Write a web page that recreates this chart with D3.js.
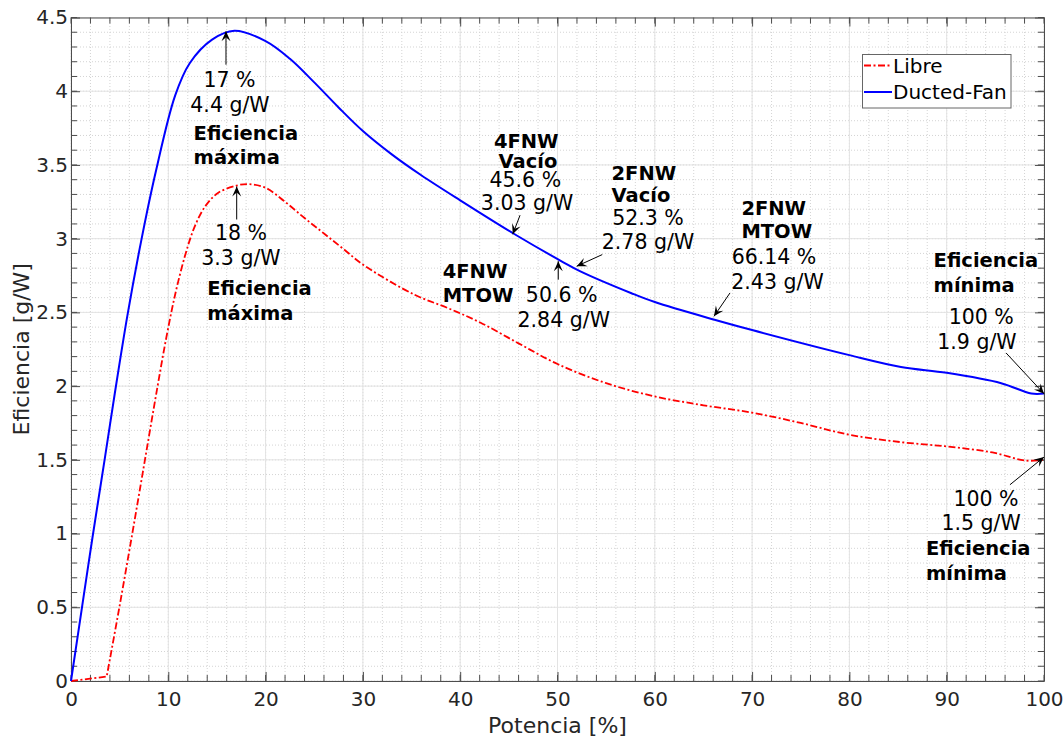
<!DOCTYPE html>
<html>
<head>
<meta charset="utf-8">
<script src="https://cdn.jsdelivr.net/npm/d3@7"></script>
<style>
    body { margin: 0; background: #ffffff; }
    svg text { font-family: "DejaVu Sans", sans-serif; }
</style>
</head>
<body>
<div id="chart"></div>
<script>
//data
var libre_x = [0, 3.67, 4.97, 6.3, 7.6, 8.9, 9.8, 10.7, 11.7, 12.7, 13.8, 15.1, 17, 18.3, 20, 22, 24, 26, 28, 30.1, 35.3, 38.7, 42.1, 46, 50, 55, 60, 65, 70, 75, 80, 85.3, 90.1, 94.7, 98.1, 100];
var libre_y = [0, 0.03, 0.5, 1.0, 1.5, 2.0, 2.33, 2.62, 2.88, 3.08, 3.22, 3.31, 3.36, 3.37, 3.345, 3.25, 3.14, 3.035, 2.93, 2.82, 2.62, 2.53, 2.43, 2.29, 2.15, 2.02, 1.93, 1.87, 1.82, 1.75, 1.67, 1.62, 1.59, 1.55, 1.495, 1.5];

var ducted_x = [0, 1.13, 2.2, 3.5, 4.5, 5.8, 7.2, 8.7, 10.7, 12.2, 14.5, 16.8, 20, 22.5, 25, 27.5, 30, 33, 36, 40, 45.6, 50.6, 52.3, 57.6, 60, 66.14, 70, 80, 85.3, 90, 95.6, 98.7, 100];
var ducted_y = [0, 0.5, 0.97, 1.52, 1.95, 2.48, 2.98, 3.45, 3.97, 4.19, 4.35, 4.41, 4.34, 4.22, 4.06, 3.89, 3.73, 3.57, 3.43, 3.26, 3.03, 2.84, 2.78, 2.63, 2.57, 2.45, 2.38, 2.21, 2.13, 2.09, 2.02, 1.95, 1.95];

var series_names = ['Libre', 'Ducted-Fan'];

var x_ticks = [0, 10, 20, 30, 40, 50, 60, 70, 80, 90, 100];
var y_ticks = [0, 0.5, 1, 1.5, 2, 2.5, 3, 3.5, 4, 4.5];

//arrows: [x tail, y tail, x tip, y tip]
var arrows = [
    [15.93, 4.18, 15.93, 4.406],
    [17.03, 3.13, 17.03, 3.354],
    [46.15, 3.159, 45.4, 3.03],
    [50.08, 2.722, 50.08, 2.847],
    [54.6, 2.892, 51.97, 2.813],
    [67.73, 2.632, 66.08, 2.473],
    [96.1, 2.225, 100, 1.948],
    [96.5, 1.331, 100, 1.519]
];

//labels: [text, x, y, anchor, bold]
var labels = [
    ['17 %', 16.29, 4.08, 'middle', false],
    ['4.4 g/W', 16.34, 3.91, 'middle', false],
    ['Eficiencia', 12.6, 3.72, 'start', true],
    ['máxima', 12.6, 3.557, 'start', true],
    ['18 %', 17.47, 3.039, 'middle', false],
    ['3.3 g/W', 17.47, 2.870, 'middle', false],
    ['Eficiencia', 14.0, 2.666, 'start', true],
    ['máxima', 14.0, 2.496, 'start', true],
    ['4FNW', 46.79, 3.66, 'middle', true],
    ['Vacío', 46.97, 3.525, 'middle', true],
    ['45.6 %', 46.69, 3.401, 'middle', false],
    ['3.03 g/W', 46.87, 3.243, 'middle', false],
    ['4FNW', 38.2, 2.779, 'start', true],
    ['MTOW', 38.2, 2.621, 'start', true],
    ['50.6 %', 50.43, 2.621, 'middle', false],
    ['2.84 g/W', 50.64, 2.451, 'middle', false],
    ['2FNW', 55.55, 3.447, 'start', true],
    ['Vacío', 55.55, 3.299, 'start', true],
    ['52.3 %', 59.30, 3.141, 'middle', false],
    ['2.78 g/W', 59.30, 2.982, 'middle', false],
    ['2FNW', 68.9, 3.209, 'start', true],
    ['MTOW', 68.9, 3.050, 'start', true],
    ['66.14 %', 72.25, 2.881, 'middle', false],
    ['2.43 g/W', 72.61, 2.711, 'middle', false],
    ['Eficiencia', 88.65, 2.858, 'start', true],
    ['mínima', 88.65, 2.688, 'start', true],
    ['100 %', 93.55, 2.473, 'middle', false],
    ['1.9 g/W', 93.11, 2.303, 'middle', false],
    ['100 %', 94.04, 1.240, 'middle', false],
    ['1.5 g/W', 93.53, 1.071, 'middle', false],
    ['Eficiencia', 87.87, 0.901, 'start', true],
    ['mínima', 87.87, 0.731, 'start', true]
];

var width = 1063;
var height = 741;
var padding = {'top': 17.5, 'right': 19, 'bottom': 60, 'left': 71};
var axis_color = '#4d4d4d';
var text_color = '#262626';

var svg = d3.select('#chart')
    .append('svg')
    .attr('width', width)
    .attr('height', height);

var x = d3.scaleLinear()
    .domain([0, 100])
    .range([padding.left, width - padding.right]);

var y = d3.scaleLinear()
    .domain([0, 4.5])
    .range([height - padding.bottom, padding.top]);

//minor grid, dotted
var minor_x = d3.range(0, 100.1, 2);
var minor_y = d3.range(0, 4.51, 0.1);

var grid = svg.append('g').attr('class', 'grid');

grid.selectAll('.minor-x')
    .data(minor_x)
    .enter().append('line')
    .attr('x1', function(d){ return x(d); })
    .attr('x2', function(d){ return x(d); })
    .attr('y1', y(0))
    .attr('y2', y(4.5))
    .style('stroke', '#d4d4d4')
    .style('stroke-width', 1)
    .style('stroke-dasharray', '1,2');

grid.selectAll('.minor-y')
    .data(minor_y)
    .enter().append('line')
    .attr('x1', x(0))
    .attr('x2', x(100))
    .attr('y1', function(d){ return y(d); })
    .attr('y2', function(d){ return y(d); })
    .style('stroke', '#d4d4d4')
    .style('stroke-width', 1)
    .style('stroke-dasharray', '1,2');

//major grid
grid.selectAll('.major-x')
    .data(x_ticks)
    .enter().append('line')
    .attr('x1', function(d){ return x(d); })
    .attr('x2', function(d){ return x(d); })
    .attr('y1', y(0))
    .attr('y2', y(4.5))
    .style('stroke', '#e3e3e3')
    .style('stroke-width', 1);

grid.selectAll('.major-y')
    .data(y_ticks)
    .enter().append('line')
    .attr('x1', x(0))
    .attr('x2', x(100))
    .attr('y1', function(d){ return y(d); })
    .attr('y2', function(d){ return y(d); })
    .style('stroke', '#e3e3e3')
    .style('stroke-width', 1);

//axes on all four sides, ticks inward
function styleAxis(g){
    g.select('.domain').style('stroke', axis_color).style('stroke-width', 1);
    g.selectAll('.tick line').style('stroke', axis_color);
    g.selectAll('.tick text')
        .style('fill', text_color)
        .style('font-size', '20px');
}

var bottom = svg.append('g')
    .attr('transform', 'translate(0,' + y(0) + ')')
    .call(d3.axisBottom(x).tickValues(x_ticks).tickSizeInner(-9).tickSizeOuter(0).tickPadding(11));
styleAxis(bottom);

var left = svg.append('g')
    .attr('transform', 'translate(' + x(0) + ',0)')
    .call(d3.axisLeft(y).tickValues(y_ticks).tickFormat(d3.format('')).tickSizeInner(-9).tickSizeOuter(0).tickPadding(3));
styleAxis(left);

var top_axis = svg.append('g')
    .attr('transform', 'translate(0,' + y(4.5) + ')')
    .call(d3.axisTop(x).tickValues(x_ticks).tickSizeInner(-9).tickSizeOuter(0).tickFormat(''));
styleAxis(top_axis);

var right_axis = svg.append('g')
    .attr('transform', 'translate(' + x(100) + ',0)')
    .call(d3.axisRight(y).tickValues(y_ticks).tickSizeInner(-9).tickSizeOuter(0).tickFormat(''));
styleAxis(right_axis);

//minor ticks
var minor = svg.append('g').attr('class', 'minor-ticks');
minor_x.forEach(function(d){
    minor.append('line').attr('x1', x(d)).attr('x2', x(d)).attr('y1', y(0)).attr('y2', y(0) - 6).style('stroke', axis_color);
    minor.append('line').attr('x1', x(d)).attr('x2', x(d)).attr('y1', y(4.5)).attr('y2', y(4.5) + 6).style('stroke', axis_color);
});
minor_y.forEach(function(d){
    minor.append('line').attr('x1', x(0)).attr('x2', x(0) + 6).attr('y1', y(d)).attr('y2', y(d)).style('stroke', axis_color);
    minor.append('line').attr('x1', x(100)).attr('x2', x(100) - 6).attr('y1', y(d)).attr('y2', y(d)).style('stroke', axis_color);
});

//axis labels
svg.append('text')
    .attr('x', (x(0) + x(100)) / 2)
    .attr('y', 733)
    .attr('text-anchor', 'middle')
    .style('font-size', '22px')
    .style('fill', text_color)
    .text('Potencia [%]');

svg.append('text')
    .attr('transform', 'translate(29,' + (y(0) + y(4.5)) / 2 + ') rotate(-90)')
    .attr('text-anchor', 'middle')
    .style('font-size', '22px')
    .style('fill', text_color)
    .text('Eficiencia [g/W]');

//lines: straight first segment, smooth after it
var line = d3.line()
    .x(function(d){ return x(d[0]); })
    .y(function(d){ return y(d[1]); })
    .curve(d3.curveCatmullRom.alpha(0.5));

function seriesPath(points){
    var start = 'M' + x(points[0][0]) + ',' + y(points[0][1]) + 'L';
    return start + line(points.slice(1)).slice(1);
}

var libre = d3.zip(libre_x, libre_y);
var ducted = d3.zip(ducted_x, ducted_y);

svg.append('path')
    .attr('d', seriesPath(libre))
    .style('fill', 'none')
    .style('stroke', '#ff0000')
    .style('stroke-width', 1.8)
    .style('stroke-dasharray', '7,2.5,2,2.5');

svg.append('path')
    .attr('d', seriesPath(ducted))
    .style('fill', 'none')
    .style('stroke', '#0000ff')
    .style('stroke-width', 2);

//arrows
function arrowHead(x1, y1, x2, y2){
    var a = Math.atan2(y2 - y1, x2 - x1);
    var len = 10, half = 4.5, back = 6;
    var ux = Math.cos(a), uy = Math.sin(a);
    var bx = x2 - ux * len, by = y2 - uy * len;
    var nx = x2 - ux * back, ny = y2 - uy * back;
    return 'M' + x2 + ',' + y2 +
        'L' + (bx - uy * half) + ',' + (by + ux * half) +
        'L' + nx + ',' + ny +
        'L' + (bx + uy * half) + ',' + (by - ux * half) + 'Z';
}

var arrow_group = svg.append('g').attr('class', 'arrows');
arrows.forEach(function(d){
    var x1 = x(d[0]), y1 = y(d[1]), x2 = x(d[2]), y2 = y(d[3]);
    arrow_group.append('line')
        .attr('x1', x1).attr('y1', y1)
        .attr('x2', x2).attr('y2', y2)
        .style('stroke', '#000000')
        .style('stroke-width', 1);
    arrow_group.append('path')
        .attr('d', arrowHead(x1, y1, x2, y2))
        .style('fill', '#000000');
});

//texts
svg.append('g').attr('class', 'labels')
    .selectAll('text')
    .data(labels)
    .enter().append('text')
    .attr('x', function(d){ return x(d[1]); })
    .attr('y', function(d){ return y(d[2]); })
    .attr('dy', '0.36em')
    .attr('text-anchor', function(d){ return d[3]; })
    .style('font-size', function(d){ return d[4] ? '19.5px' : '20.5px'; })
    .style('font-weight', function(d){ return d[4] ? 'bold' : 'normal'; })
    .style('fill', '#000000')
    .text(function(d){ return d[0]; });

//legend
var legend = svg.append('g').attr('class', 'legend');
legend.append('rect')
    .attr('x', 862.5)
    .attr('y', 54.5)
    .attr('width', 148.5)
    .attr('height', 53.5)
    .style('fill', '#ffffff')
    .style('stroke', '#666666')
    .style('stroke-width', 1);

var legend_styles = [
    {'color': '#ff0000', 'dash': '7,2.5,2,2.5', 'width': 1.8},
    {'color': '#0000ff', 'dash': null, 'width': 2}
];

series_names.forEach(function(name, i){
    var ly = 65.5 + i * 26.5;
    legend.append('line')
        .attr('x1', 864).attr('x2', 892)
        .attr('y1', ly).attr('y2', ly)
        .style('stroke', legend_styles[i].color)
        .style('stroke-width', legend_styles[i].width)
        .style('stroke-dasharray', legend_styles[i].dash);
    legend.append('text')
        .attr('x', 893)
        .attr('y', ly)
        .attr('dy', '0.36em')
        .style('font-size', '20px')
        .style('fill', '#000000')
        .text(name);
});
</script>
</body>
</html>
